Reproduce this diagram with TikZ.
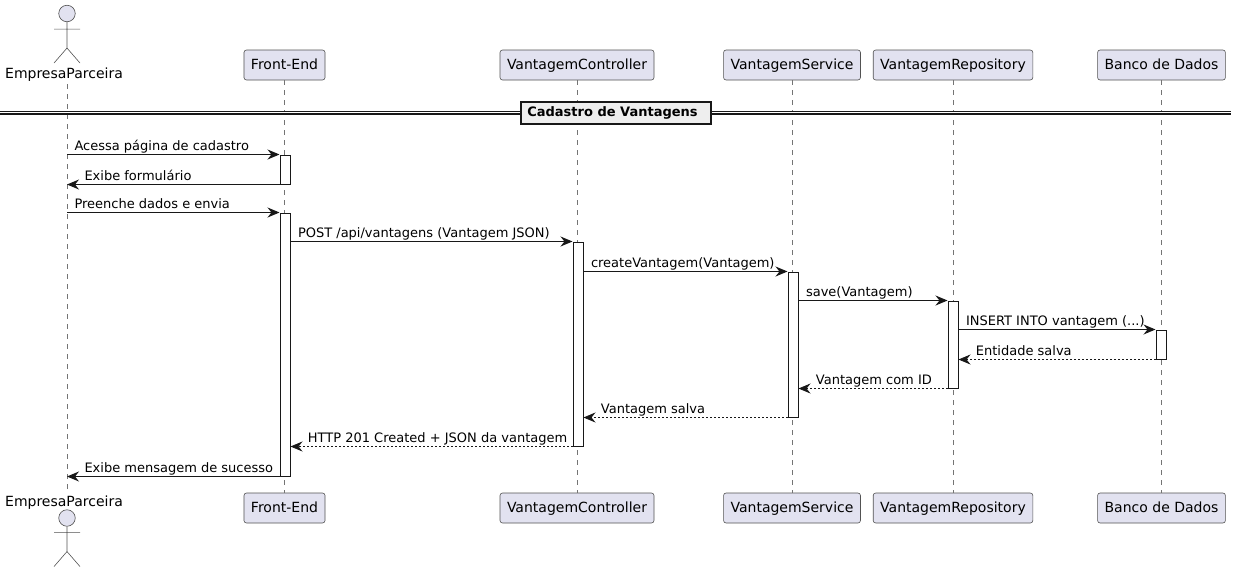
\documentclass[tikz,border=0pt]{standalone}
\usepackage{fontspec}
\setmainfont{DejaVu Sans}
\usetikzlibrary{arrows.meta,positioning,calc}
\definecolor{umlline}{HTML}{181818}
\definecolor{umlfill}{HTML}{E2E2F0}
\definecolor{umlhead}{HTML}{EEEEEE}

\begin{document}
\begin{tikzpicture}[x=1pt,y=-1pt]
\tikzset{
    every node/.style={font=\fontsize{14}{16}\selectfont,text=black},
    part/.style={draw=umlline!75,fill=umlfill,line width=0.6pt,rounded corners=2.5pt,minimum height=30pt,inner xsep=7pt,inner ysep=0pt,text height=11pt,text depth=2.5pt},
    head/.style={circle,draw=umlline!75,fill=umlfill,line width=0.6pt,minimum size=16.5pt,inner sep=0pt},
    stick/.style={draw=umlline!75,line width=0.6pt},
    life/.style={draw=umlline!60,line width=0.5pt,dash pattern=on 5pt off 5pt},
    bar/.style={draw=umlline,fill=white,line width=1pt,minimum width=10pt,inner sep=0pt},
    call/.style={draw=umlline,line width=1pt,-{Stealth[length=12pt,width=10pt,inset=4pt]}},
    back/.style={draw=umlline,line width=0.8pt,dash pattern=on 2pt off 2pt,-{Stealth[length=12pt,width=10pt,inset=4pt,line width=0.8pt]}},
    msgr/.style={anchor=base west,xshift=7pt,yshift=4.5pt,inner sep=0pt,font=\fontsize{13}{15}\selectfont},
    msgl/.style={anchor=base west,xshift=17pt,yshift=4.5pt,inner sep=0pt,font=\fontsize{13}{15}\selectfont}
}
\useasboundingbox (0,0) rectangle (1236,573);
% participants
\node[head] (actorT) at (67,13.5) {};
\node[anchor=base] (actorLT) at (64,78) {EmpresaParceira};
\node[part] (frontT) at (284.5,65) {Front-End};
\node[part] (ctrlT) at (577,65) {VantagemController};
\node[part] (servT) at (792,65) {VantagemService};
\node[part] (repoT) at (953,65) {VantagemRepository};
\node[part] (bancoT) at (1161.5,65) {Banco de Dados};
\node[head] (actorB) at (67,518) {};
\node[anchor=base] (actorLB) at (64,506) {EmpresaParceira};
\node[part] (frontB) at (284.5,508) {Front-End};
\node[part] (ctrlB) at (577,508) {VantagemController};
\node[part] (servB) at (792,508) {VantagemService};
\node[part] (repoB) at (953,508) {VantagemRepository};
\node[part] (bancoB) at (1161.5,508) {Banco de Dados};
% actor figures
\draw[stick] (actorT.south) -- ++(0,26) coordinate (hipT) -- ++(-13,15) (hipT) -- ++(13,15)
  (actorT.south) ++(-13,7) -- ++(26,0);
\draw[stick] (actorB.south) -- ++(0,25) coordinate (hipB) -- ++(-13,15) (hipB) -- ++(13,15)
  (actorB.south) ++(-13,6) -- ++(26,0);
% lifelines
\draw[life] (actorT |- actorLT.south) -- (actorB |- actorLB.north);
\draw[life] (frontT.south) -- (frontB.north);
\draw[life] (ctrlT.south) -- (ctrlB.north);
\draw[life] (servT.south) -- (servB.north);
\draw[life] (repoT.south) -- (repoB.north);
\draw[life] (bancoT.south) -- (bancoB.north);
% divider
\coordinate (divL) at (0,112.5);
\coordinate (divR) at (1231,112.5);
\draw[umlline,line width=1.2pt,double=white,double distance=1.6pt] (divL) -- (divR);
\node[draw=umlline,fill=umlhead,line width=2pt,minimum width=190pt,minimum height=22pt,inner sep=0pt,font=\fontsize{13}{15}\selectfont\bfseries] (title) at (615.5,112.5) {Cadastro de Vantagens\rule{6pt}{0pt}};
% activations
\node[bar,minimum height=29pt] (front1) at (285,169.5) {};
\node[bar,minimum height=263pt] (front2) at (285,344.5) {};
\node[bar,minimum height=204pt] (ctrl) at (578,344) {};
\node[bar,minimum height=145pt] (serv) at (793,344.5) {};
\node[bar,minimum height=87pt] (repo) at (953,344.5) {};
\node[bar,minimum height=29pt] (banco) at (1161,344.5) {};
% messages
\draw[call] (actorT |- front1.north) -- node[msgr,at start] {Acessa página de cadastro} (front1.north west);
\draw[call] (front1.south west) -- node[msgl,at end] {Exibe formulário} (actorT |- front1.south);
\draw[call] (actorT |- front2.north) -- node[msgr,at start] {Preenche dados e envia} (front2.north west);
\draw[call] (front2.east |- ctrl.north) -- node[msgr,at start] {POST /api/vantagens (Vantagem JSON)} (ctrl.north west);
\draw[call] (ctrl.east |- serv.north) -- node[msgr,at start] {createVantagem(Vantagem)} (serv.north west);
\draw[call] (serv.east |- repo.north) -- node[msgr,at start] {save(Vantagem)} (repo.north west);
\draw[call] (repo.east |- banco.north) -- node[msgr,at start] {INSERT INTO vantagem (...)} (banco.north west);
\draw[back] (banco.south west) -- node[msgl,at end] {Entidade salva} (repo.east |- banco.south);
\draw[back] (repo.south west) -- node[msgl,at end] {Vantagem com ID} (serv.east |- repo.south);
\draw[back] (serv.south west) -- node[msgl,at end] {Vantagem salva} (ctrl.east |- serv.south);
\draw[back] (ctrl.south west) -- node[msgl,at end] {HTTP 201 Created + JSON da vantagem} (front2.east |- ctrl.south);
\draw[call] (front2.south west) -- node[msgl,at end] {Exibe mensagem de sucesso} (actorT |- front2.south);
\end{tikzpicture}
\end{document}
